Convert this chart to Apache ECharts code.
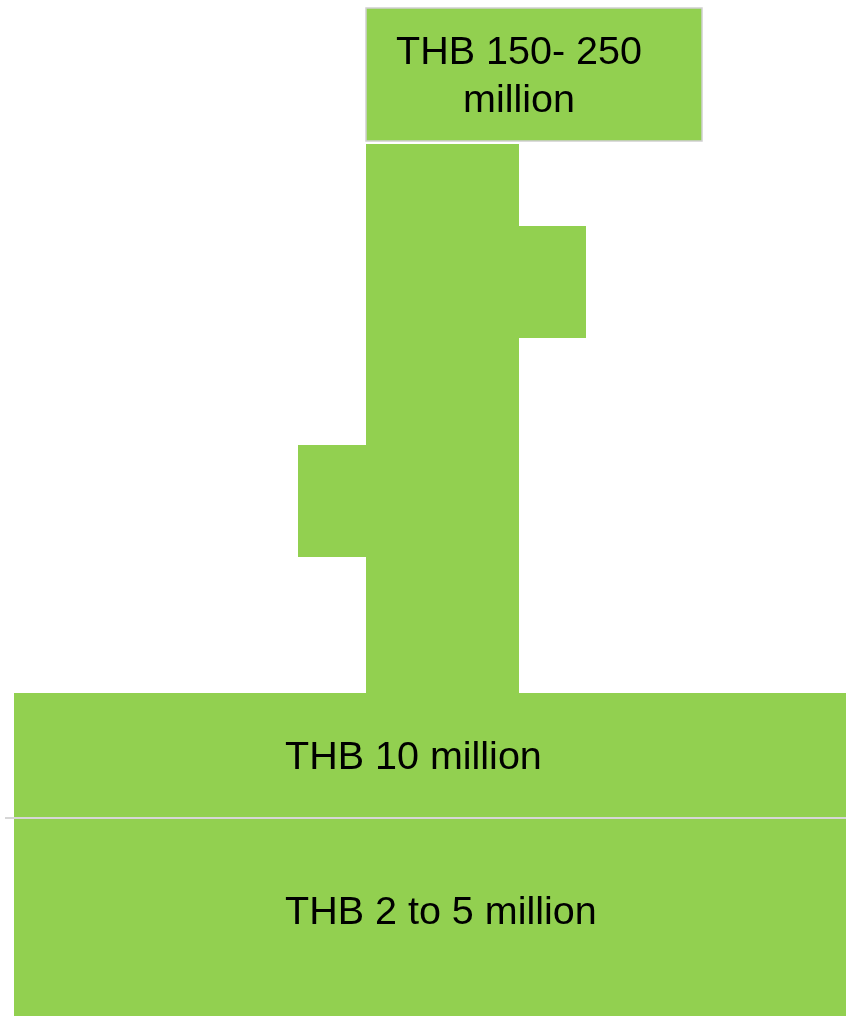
<!DOCTYPE html>
<html>
<head>
<meta charset="utf-8">
<script src="https://cdn.jsdelivr.net/npm/echarts@6/dist/echarts.min.js"></script>
<style>
html,body{margin:0;padding:0;background:#fff;}
#chart{width:846px;height:1016px;}
</style>
</head>
<body>
<div id="chart"></div>
<script>
// Blocks of the diagram, in axis units (x: 0..846, y: 0..1016 downward)
const blockNames = ['Top box', 'Stem', 'Right branch', 'Left branch', 'Upper base', 'Lower base'];
const blockX0 = [366, 366, 519, 298, 14, 14];
const blockX1 = [702, 519, 586, 366, 846, 846];
const blockY0 = [8, 144, 226, 445, 693, 818];
const blockY1 = [141, 693, 338, 557, 818, 1016];
const blockBordered = [true, false, false, false, false, false];

// Labels
const labelTexts = ['THB 150- 250\nmillion', 'THB 10 million', 'THB 2 to 5 million'];
const labelX = [519, 285, 285];
const labelY = [77, 758, 913];
const labelAlign = ['center', 'left', 'left'];

// Divider line
const dividerX = [5, 846];
const dividerY = [818, 818];

const GREEN = '#92D050';

const blockData = blockNames.map((n, i) => ({
  name: n,
  value: [blockX0[i], blockX1[i], blockY0[i], blockY1[i], blockBordered[i] ? 1 : 0]
}));
const labelData = labelTexts.map((t, i) => ({ name: t, value: [labelX[i], labelY[i], i] }));

const chart = echarts.init(document.getElementById('chart'), null, { renderer: 'canvas' });
chart.setOption({
  animation: false,
  backgroundColor: '#ffffff',
  grid: { left: 0, right: 0, top: 0, bottom: 0 },
  xAxis: { type: 'value', min: 0, max: 846, show: false },
  yAxis: { type: 'value', min: 0, max: 1016, inverse: true, show: false },
  series: [
    {
      type: 'custom',
      data: blockData,
      renderItem: function (params, api) {
        const p0 = api.coord([api.value(0), api.value(2)]);
        const p1 = api.coord([api.value(1), api.value(3)]);
        const bordered = api.value(4) === 1;
        return {
          type: 'rect',
          shape: { x: p0[0], y: p0[1], width: p1[0] - p0[0], height: p1[1] - p0[1] },
          style: bordered
            ? { fill: GREEN, stroke: '#d0d0d0', lineWidth: 1.5 }
            : { fill: GREEN }
        };
      },
      z: 1
    },
    {
      type: 'line',
      data: dividerX.map((x, i) => [x, dividerY[i]]),
      symbol: 'none',
      lineStyle: { color: '#d6d6d6', width: 2 },
      silent: true,
      z: 2
    },
    {
      type: 'custom',
      data: labelData,
      renderItem: function (params, api) {
        const p = api.coord([api.value(0), api.value(1)]);
        const idx = api.value(2);
        return {
          type: 'text',
          x: p[0],
          y: p[1],
          style: {
            text: labelTexts[idx],
            fill: '#000000',
            fontFamily: '"Liberation Sans", Arial, sans-serif',
            fontSize: 39.5,
            lineHeight: 48,
            align: labelAlign[idx],
            verticalAlign: 'middle'
          }
        };
      },
      z: 3
    }
  ]
});
</script>
</body>
</html>
